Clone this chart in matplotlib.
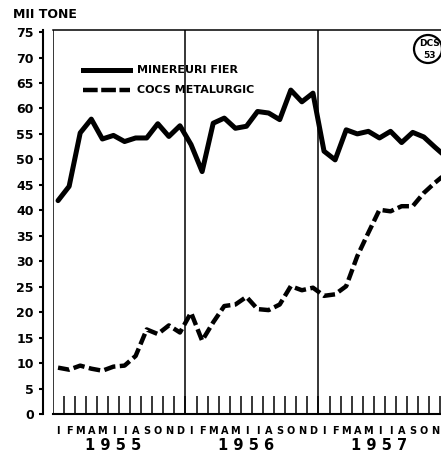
import numpy as np
import matplotlib
matplotlib.use('Agg')
import matplotlib.pyplot as plt
from matplotlib import font_manager
from matplotlib.lines import Line2D
from matplotlib.patches import Ellipse

# luni (initiale romanesti) si ani
months = list("IFMAMIIASOND") * 3
years = ['1 9 5 5', '1 9 5 6', '1 9 5 7']
yticks = list(range(0, 80, 5))

# mii tone, ian 1955 - dec 1957
minereu_fier = [41.9, 44.7, 55.2, 57.9, 54.0, 54.7, 53.5, 54.2, 54.2, 57.0, 54.5, 56.6,
                52.9, 47.6, 57.1, 58.1, 56.1, 56.5, 59.4, 59.1, 57.8, 63.6, 61.3, 63.0,
                51.6, 49.9, 55.8, 55.0, 55.5, 54.2, 55.5, 53.3, 55.3, 54.4, 52.4, 50.5]
cocs_metalurgic = [9.1, 8.7, 9.5, 8.9, 8.5, 9.3, 9.5, 11.4, 16.6, 15.7, 17.4, 16.0,
                   19.9, 14.4, 18.0, 21.2, 21.5, 23.0, 20.6, 20.4, 21.5, 25.1, 24.3, 24.8,
                   23.2, 23.5, 25.1, 31.0, 35.6, 40.1, 39.8, 40.8, 40.8, 43.4, 45.4, 47.2]

names = {f.name for f in font_manager.fontManager.ttflist}
NARROW = 'Liberation Sans Narrow' if 'Liberation Sans Narrow' in names else 'DejaVu Sans'
small = NARROW == 'DejaVu Sans'

W, H = 441, 454
fig = plt.figure(figsize=(W / 100, H / 100), dpi=100)
fig.patch.set_facecolor('white')
ax = fig.add_axes([52.5 / W, 40 / H, 399 / W, 384 / H])

x = np.arange(len(minereu_fier)) + 0.5
ax.plot(x, minereu_fier, color='black', lw=3.6,
        solid_joinstyle='round', solid_capstyle='round')
ax.plot(x, cocs_metalurgic, color='black', lw=3.2, dashes=(2.6, 1.0),
        dash_joinstyle='round')

# separatoare intre ani
for b in [0, 12, 24]:
    ax.axvline(b, color='black', lw=1.1)

ax.set_xlim(0, 36)
ax.set_ylim(0, 75.4)

ax.spines['right'].set_visible(False)
ax.spines['left'].set_position(('outward', 7))
ax.spines['left'].set_linewidth(1.5)
ax.spines['top'].set_linewidth(1.1)
ax.spines['bottom'].set_linewidth(1.5)

ax.set_yticks(yticks)
ax.set_yticklabels([str(v) for v in yticks], fontsize=9, fontweight='bold')
ax.tick_params(axis='y', direction='out', length=3, width=1.5, pad=3.5)

ax.set_xticks(range(1, 36))
ax.set_xticks(x, minor=True)
ax.set_xticklabels(months, minor=True, fontsize=7, fontweight='bold')
ax.tick_params(axis='x', which='major', direction='in', length=13, width=1.1,
               labelbottom=False)
ax.tick_params(axis='x', which='minor', length=0, pad=8.6)

for k, yr in enumerate(years):
    ax.text(12 * k + 5.5, -31 / 384, yr, transform=ax.get_xaxis_transform(),
            ha='center', va='center', fontsize=10.5, fontweight='bold', family=NARROW)

fig.text(13 / W, 1 - 18 / H, 'MII TONE', va='baseline', fontsize=9 if small else 10,
         fontweight='bold', family=NARROW)

# legenda
leg_fs = 8 if small else 8.5
fig.add_artist(Line2D([83 / W, 130 / W], [1 - 70 / H] * 2, color='black', lw=3.6,
                      transform=fig.transFigure))
fig.add_artist(Line2D([83 / W, 130 / W], [1 - 90 / H] * 2, color='black', lw=3.2,
                      dashes=(3.3, 0.8), transform=fig.transFigure))
fig.text(137 / W, 1 - 70 / H, 'MINEREURI FIER', va='center', fontsize=leg_fs,
         fontweight='bold', family=NARROW)
fig.text(137 / W, 1 - 90 / H, 'COCS METALURGIC', va='center', fontsize=leg_fs,
         fontweight='bold', family=NARROW)

# stampila
fig.add_artist(Ellipse((428 / W, 1 - 49 / H), 28 / W, 28 / H, fill=False, lw=1.6,
                       transform=fig.transFigure))
fig.text(429 / W, 1 - 44 / H, 'DCS', ha='center', va='center', fontsize=6.5,
         fontweight='bold', family=NARROW)
fig.text(429 / W, 1 - 55 / H, '53', ha='center', va='center', fontsize=6.5,
         fontweight='bold', family=NARROW)

fig.savefig('out.png', dpi=100)
